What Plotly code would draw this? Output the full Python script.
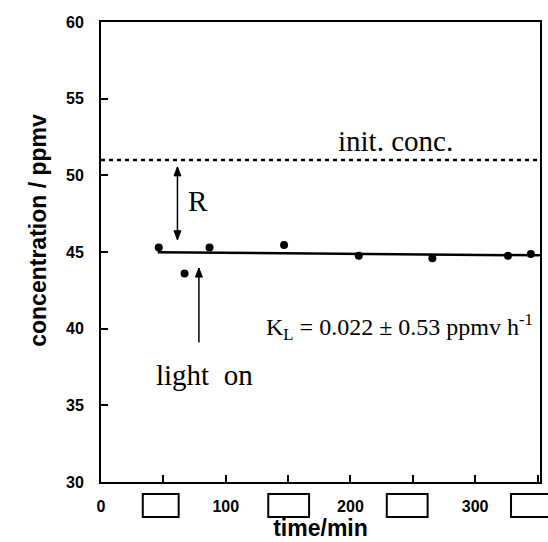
import plotly.graph_objects as go

# data
time_min = [46.3, 67, 87, 146.8, 206.7, 265.7, 326.3, 344.7]
conc_ppmv = [45.3, 43.6, 45.3, 45.45, 44.75, 44.6, 44.75, 44.87]
fit_time = [45.5, 352]
fit_conc = [44.98, 44.78]
init_time = [0, 352]
init_conc = [51.0, 51.0]
x_tickvals = [0, 100, 200, 300]
x_ticktext = ["0", "100", "200", "300"]
y_tickvals = [30, 35, 40, 45, 50, 55, 60]
y_ticktext = ["30", "35", "40", "45", "50", "55", "60"]

SANS = "Liberation Sans, Arial, sans-serif"
SERIF = "Liberation Serif, Times New Roman, serif"

X_RANGE = [0, 352]
Y_RANGE = [30, 60]
PLOT_W = 548 - 101 - 6
PLOT_H = 542 - 22 - 60
XU = (X_RANGE[1] - X_RANGE[0]) / PLOT_W   # data units per pixel
YU = (Y_RANGE[1] - Y_RANGE[0]) / PLOT_H

fig = go.Figure()
fig.add_trace(go.Scatter(x=init_time, y=init_conc, mode="lines",
                         line=dict(color="black", width=2.5, dash="4px,4px"),
                         showlegend=False, hoverinfo="skip"))
fig.add_trace(go.Scatter(x=fit_time, y=fit_conc, mode="lines",
                         line=dict(color="black", width=2.5),
                         showlegend=False, hoverinfo="skip"))
fig.add_trace(go.Scatter(x=time_min, y=conc_ppmv, mode="markers",
                         marker=dict(color="black", size=8),
                         showlegend=False))

# blank label boxes under the x axis (paper coordinates)
boxes = [(0.0952, 0.1769), (0.381, 0.474), (0.651, 0.744), (0.934, 1.03)]
for x0, x1 in boxes:
    fig.add_shape(type="rect", xref="paper", yref="paper", x0=x0, x1=x1,
                  y0=-0.0761, y1=-0.0261, line=dict(color="black", width=2),
                  fillcolor="white")


def vertical_arrow(x, y_from, y_to, both=False):
    """Vertical arrow drawn with shapes; head at y_to (and y_from if both)."""
    hl, hw = 9 * YU, 3.5 * XU
    fig.add_shape(type="line", x0=x, x1=x, y0=y_from, y1=y_to,
                  line=dict(color="black", width=1.5))
    ends = [(y_to, y_from)] + ([(y_from, y_to)] if both else [])
    for tip, tail in ends:
        d = 1 if tail > tip else -1
        base = tip + d * hl
        fig.add_shape(type="path",
                      path=f"M {x},{tip} L {x - hw},{base} L {x + hw},{base} Z",
                      fillcolor="black", line=dict(color="black", width=1))


# R double arrow and light-on arrow
vertical_arrow(61.3, 50.55, 45.8, both=True)
vertical_arrow(78.5, 39.1, 43.95)

fig.add_annotation(x=78, y=48.3, text="R", showarrow=False,
                   font=dict(family=SERIF, size=29, color="black"))
fig.add_annotation(x=83, y=37.0, text="light  on", showarrow=False,
                   font=dict(family=SERIF, size=29, color="black"))
fig.add_annotation(x=236, y=52.25, text="init. conc.", showarrow=False,
                   font=dict(family=SERIF, size=29, color="black"))
fig.add_annotation(x=348, y=40.1, xanchor="right",
                   text="K<sub>L</sub> = 0.022 ± 0.53 ppmv h<sup>-1</sup>",
                   showarrow=False,
                   font=dict(family=SERIF, size=24, color="black"))
# y axis title
fig.add_annotation(xref="paper", yref="paper", x=-0.178, y=0.548,
                   text="concentration / ppmv", textangle=-90, showarrow=False,
                   font=dict(family=SANS, size=23, color="black", weight="bold"))

fig.update_layout(
    width=548, height=542,
    margin=dict(l=101, r=6, t=22, b=60),
    paper_bgcolor="white", plot_bgcolor="white",
    xaxis=dict(range=X_RANGE, tickmode="array", tickvals=x_tickvals,
               ticktext=x_ticktext, ticks="inside", ticklen=7, tickwidth=2,
               tickcolor="black", showline=True, linecolor="black",
               linewidth=2, mirror=True, showgrid=False, zeroline=False,
               ticklabelstandoff=9,
               minor=dict(dtick=50, tick0=0, ticks="inside", ticklen=7,
                          tickwidth=2, tickcolor="black", showgrid=False),
               tickfont=dict(family=SANS, size=16, color="black", weight="bold"),
               title=dict(text="time/min", standoff=2,
                          font=dict(family=SANS, size=23, color="black",
                                    weight="bold"))),
    yaxis=dict(range=Y_RANGE, tickmode="array", tickvals=y_tickvals,
               ticktext=y_ticktext, ticks="inside", ticklen=7, tickwidth=2,
               tickcolor="black", showline=True, linecolor="black",
               linewidth=2, mirror=True, showgrid=False, zeroline=False,
               ticklabelstandoff=12,
               tickfont=dict(family=SANS, size=16, color="black", weight="bold")),
)

fig.write_html("out.html")
